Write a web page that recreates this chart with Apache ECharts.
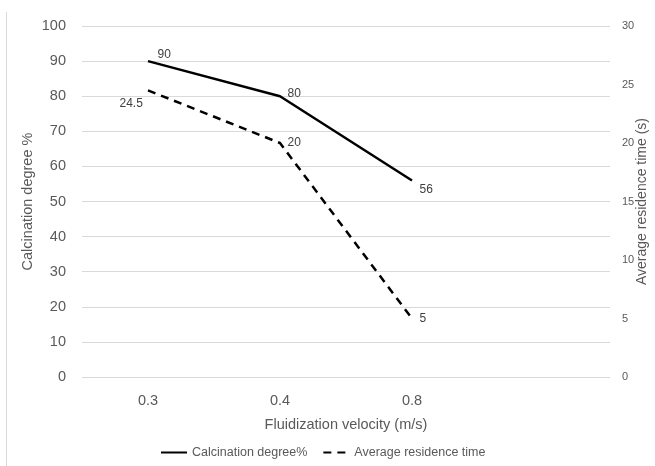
<!DOCTYPE html>
<html>
<head>
<meta charset="utf-8">
<title>Calcination degree vs fluidization velocity</title>
<script src="https://cdn.jsdelivr.net/npm/echarts@6/dist/echarts.min.js"></script>
<style>
    html, body { margin: 0; padding: 0; background: #fff; }
    #line { width: 655px; height: 466px; }
</style>
</head>
<body>
<div id="line"></div>
<script>
    // data
    var categories = ['0.3', '0.4', '0.8', ''];
    var calcination = [90, 80, 56, null];
    var residence = [24.5, 20, 5, null];
    var leftTicks = [0, 100, 10];   // min, max, interval
    var rightTicks = [0, 30, 5];

    var font = '"Liberation Sans", Arial, sans-serif';
    var grey = '#595959';
    var clear = 'rgba(0,0,0,0)';

    // label nudges (dx, dy) relative to the default "right" spot
    var calcNudge = [[4, -6], [2, -3], [2, 9]];
    var timeNudge = [[-34, 13], [2, 0], [2, 0]];

    var myChart = echarts.init(document.getElementById('line'));
    var option = {
        animation: false,
        textStyle: { fontFamily: font },
        grid: { left: 82, right: 45, top: 26, bottom: 89, outerBoundsMode: 'none', containLabel: false },
        graphic: [{
            // thin chart border on the left
            type: 'line',
            shape: { x1: 6.5, y1: 12, x2: 6.5, y2: 466 },
            style: { stroke: '#d9d9d9', lineWidth: 1 }
        }],
        legend: {
            bottom: 2,
            left: 155,
            itemWidth: 26,
            itemHeight: 10,
            itemGap: 15,
            textStyle: { fontSize: 12.5, color: grey, fontFamily: font },
            data: ['Calcination degree%', 'Average residence time']
        },
        xAxis: {
            type: 'category',
            data: categories,
            name: 'Fluidization velocity (m/s)',
            nameLocation: 'middle',
            nameGap: 40,
            nameTextStyle: { fontSize: 14.5, color: grey, fontFamily: font },
            axisLine: { show: false },
            axisTick: { show: false },
            axisLabel: { fontSize: 14.5, color: grey, margin: 16, fontFamily: font }
        },
        yAxis: [{
            type: 'value',
            min: leftTicks[0], max: leftTicks[1], interval: leftTicks[2],
            name: 'Calcination degree %',
            nameLocation: 'middle',
            nameGap: 54,
            nameMoveOverlap: false,
            nameTextStyle: {
                fontSize: 14.5, color: grey, fontFamily: font,
                align: 'center', verticalAlign: 'middle'
            },
            axisLine: { show: false },
            axisTick: { show: false },
            axisLabel: { fontSize: 14.5, color: grey, margin: 16, fontFamily: font },
            splitLine: { lineStyle: { color: '#d9d9d9', width: 1 } }
        }, {
            type: 'value',
            min: rightTicks[0], max: rightTicks[1], interval: rightTicks[2],
            name: 'Average residence time (s)',
            nameLocation: 'middle',
            nameGap: 32,
            nameRotate: 90,
            nameMoveOverlap: false,
            nameTextStyle: {
                fontSize: 14, color: grey, fontFamily: font,
                align: 'center', verticalAlign: 'middle'
            },
            axisLine: { show: false },
            axisTick: { show: false },
            axisLabel: { fontSize: 11, color: grey, margin: 12, fontFamily: font },
            splitLine: { show: false }
        }],
        series: [{
            name: 'Calcination degree%',
            type: 'line',
            yAxisIndex: 0,
            data: calcination,
            symbol: 'circle',
            symbolSize: 1,
            itemStyle: { color: clear },
            lineStyle: { color: '#000', width: 2.5 },
            label: { show: true, fontSize: 12, color: '#404040', position: 'right' },
            labelLayout: function (params) {
                var n = calcNudge[params.dataIndex] || [0, 0];
                return { dx: n[0], dy: n[1] };
            }
        }, {
            name: 'Average residence time',
            type: 'line',
            yAxisIndex: 1,
            data: residence,
            symbol: 'circle',
            symbolSize: 1,
            itemStyle: { color: clear },
            lineStyle: { color: '#000', width: 2.5, type: [8, 6] },
            label: { show: true, fontSize: 12, color: '#404040', position: 'right' },
            labelLayout: function (params) {
                var n = timeNudge[params.dataIndex] || [0, 0];
                return { dx: n[0], dy: n[1] };
            }
        }]
    };
    myChart.setOption(option);
</script>
</body>
</html>
